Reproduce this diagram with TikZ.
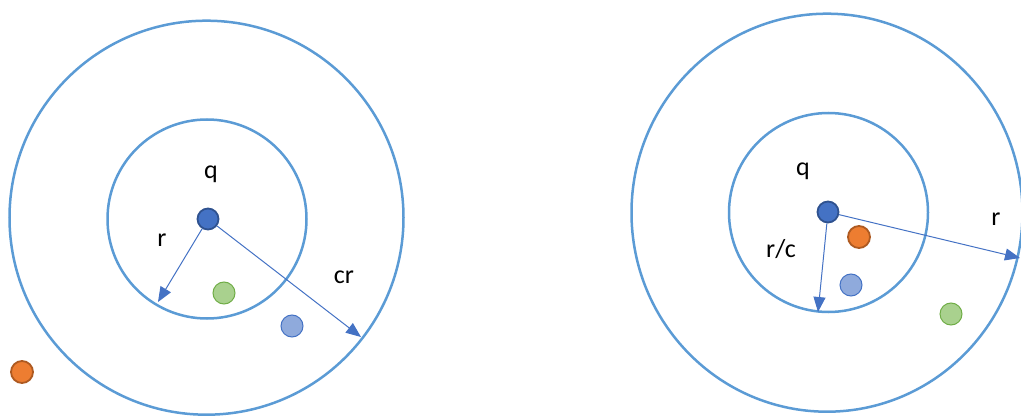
\documentclass[tikz,border=0pt]{standalone}
\usepackage{fontspec}
\setmainfont{Carlito}
\usetikzlibrary{arrows.meta}
\definecolor{ring}{HTML}{5B9BD5}
\definecolor{arr}{HTML}{4472C4}
\definecolor{qdark}{HTML}{2F528F}
\definecolor{orf}{HTML}{ED7D31}
\definecolor{ord}{HTML}{AE5A21}
\definecolor{grf}{HTML}{A9D18E}
\definecolor{grd}{HTML}{70AD47}
\definecolor{lbf}{HTML}{8FAADC}
\tikzset{
  ringline/.style={draw=ring, line width=2.5pt},
  radius arrow/.style={draw=arr, line width=1pt, -{Triangle[length=15pt,width=12pt]}, shorten <=0pt},
  qdot/.style={circle, fill=arr, draw=qdark, line width=1.8pt, minimum size=21pt, inner sep=0pt},
  odot/.style={circle, fill=orf, draw=ord, line width=1.8pt, minimum size=22pt, inner sep=0pt},
  gdot/.style={circle, fill=grf, draw=grd, line width=1pt, minimum size=22pt, inner sep=0pt},
  bdot/.style={circle, fill=lbf, draw=arr, line width=1pt, minimum size=22pt, inner sep=0pt},
  lbl/.style={font=\fontsize{26}{30}\selectfont, inner sep=0pt, text=black},
}
\begin{document}
\begin{tikzpicture}[x=1pt,y=-1pt]
\useasboundingbox (0,0) rectangle (1021,417);
\clip (0,0) rectangle (1021,417);
% left figure
\draw[ringline] (206.5,217.7) circle (197);
\draw[ringline] (207,219) circle (99.5);
\node[qdot] (q1) at (208,219) {};
\coordinate (r1end) at (158,302);
\coordinate (cr1end) at (361,337);
\draw[radius arrow] (q1) -- (r1end);
\draw[radius arrow] (q1) -- (cr1end);
\node[lbl] (q1l) at (211,174) {q};
\node[lbl] (r1l) at (162,240) {r};
\node[lbl] (cr1l) at (344,277) {cr};
\node[gdot] (g1) at (224,293) {};
\node[bdot] (b1) at (292,326) {};
\node[odot] (o1) at (22,372) {};
% right figure
\draw[ringline] (827,212.7) ellipse [x radius=195.5, y radius=199];
\draw[ringline] (828.5,212.5) circle (99.5);
\node[qdot] (q2) at (828,212) {};
\coordinate (r2end) at (818,312);
\coordinate (R2end) at (1020,258);
\draw[radius arrow] (q2) -- (r2end);
\draw[radius arrow] (q2) -- (R2end);
\node[lbl] (q2l) at (803,171) {q};
\node[lbl] (rc2l) at (781,249) {r/c};
\node[lbl] (r2l) at (996,219) {r};
\node[odot] (o2) at (859,237) {};
\node[bdot] (b2) at (851,285) {};
\node[gdot] (g2) at (951,314) {};
\end{tikzpicture}
\end{document}
